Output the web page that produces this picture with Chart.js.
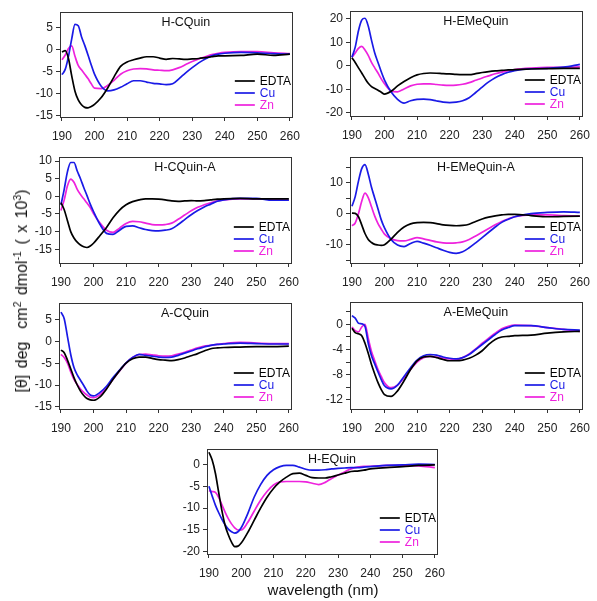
<!DOCTYPE html>
<html>
<head>
<meta charset="utf-8">
<script src="https://cdn.jsdelivr.net/npm/chart.js@4/dist/chart.umd.min.js"></script>
<style>
  body { margin: 0; background: #fff; width: 597px; height: 601px; position: relative; overflow: hidden;
         font-family: "Liberation Sans", Arial, sans-serif; }
  canvas { position: absolute; }
  #ylab { position: absolute; left: 22px; top: 291px; transform: translate(-50%, -50%) rotate(-90deg);
          white-space: nowrap; font-size: 16px; color: #111; word-spacing: 2px; line-height: 18px; }
  #ylab sup { font-size: 10.5px; vertical-align: 0; position: relative; top: -6px; line-height: 0; }
  #xlab { position: absolute; left: 323px; top: 589px; transform: translate(-50%, -50%);
          white-space: nowrap; font-size: 15px; color: #111; }
</style>
</head>
<body>
<canvas id="c1"></canvas>
<canvas id="c2"></canvas>
<canvas id="c3"></canvas>
<canvas id="c4"></canvas>
<canvas id="c5"></canvas>
<canvas id="c6"></canvas>
<canvas id="c7"></canvas>
<div id="ylab">[θ] deg&nbsp;&nbsp;cm<sup>2</sup> dmol<sup>-1</sup>&nbsp;( x 10<sup>3</sup>)</div>
<div id="xlab">wavelength (nm)</div>
<script>
// longueurs d'onde (nm)
const wl = [190,191,192,193,194,195,196,197,198,199,200,202,204,206,208,210,212,214,216,218,220,222,224,226,228,230,232,234,236,238,240,245,250,255,260];
const xTicks = [190,200,210,220,230,240,250,260];
const seriesNames = ['EDTA', 'Cu', 'Zn'];

// H-CQuin
const hCQuinEDTA = [-0.5,-0.2,-2.0,-6.0,-9.5,-11.5,-12.6,-13.2,-13.3,-13.0,-12.5,-11.0,-8.8,-6.2,-3.8,-2.8,-2.3,-1.9,-1.6,-1.6,-1.9,-2.2,-2.0,-2.1,-2.2,-2.1,-2.0,-1.8,-1.6,-1.4,-1.4,-1.3,-1.0,-1.3,-1.0];
const hCQuinCu   = [-5.7,-4.5,-1.5,2.5,5.8,5.5,3.0,1.0,-1.2,-3.5,-5.6,-8.3,-9.4,-9.2,-8.6,-7.8,-7.1,-7.1,-7.4,-7.7,-7.8,-8.0,-7.8,-6.6,-5.3,-4.1,-3.0,-2.1,-1.4,-1.0,-0.8,-0.6,-0.7,-0.9,-1.0];
const hCQuinZn   = [-2.3,-1.2,0.3,0.9,-1.5,-3.6,-4.6,-5.6,-6.6,-7.8,-8.8,-8.9,-8.2,-7.0,-5.6,-4.8,-4.4,-4.3,-4.4,-4.6,-4.7,-4.8,-4.6,-4.1,-3.4,-2.7,-2.1,-1.6,-1.1,-0.8,-0.6,-0.4,-0.4,-0.7,-0.9];
const hCQuinTicks = [-15,-10,-5,0,5];

// H-EMeQuin
const hEMeQuinEDTA = [3.5,1.5,-0.8,-3.0,-5.3,-7.4,-8.8,-9.6,-10.3,-11.2,-12.0,-10.8,-8.5,-6.6,-5.0,-3.8,-3.2,-3.0,-3.1,-3.3,-3.4,-3.6,-3.7,-3.7,-3.3,-2.8,-2.4,-2.1,-1.9,-1.7,-1.6,-1.3,-1.1,-1.0,-1.0];
const hEMeQuinCu   = [3.7,8.0,15.0,19.5,20.3,17.0,11.0,5.5,1.5,-2.5,-6.0,-11.0,-14.2,-15.8,-14.8,-14.2,-14.1,-14.3,-14.9,-15.4,-15.6,-15.4,-14.8,-13.5,-11.3,-9.0,-6.8,-5.0,-3.7,-2.7,-2.0,-1.2,-1.0,-0.5,0.7];
const hEMeQuinZn   = [3.7,5.5,7.5,8.3,6.8,4.5,1.5,-0.8,-3.0,-5.5,-7.6,-10.6,-11.0,-9.8,-8.5,-7.8,-7.6,-7.6,-7.9,-8.2,-8.3,-8.2,-7.8,-7.1,-6.1,-5.1,-4.2,-3.3,-2.6,-2.0,-1.5,-0.9,-0.6,-0.6,-0.4];
const hEMeQuinTicks = [-20,-10,0,10,20];

// H-CQuin-A
const hCQuinAEDTA = [-1.8,-3.8,-6.9,-10.0,-11.8,-13.0,-13.8,-14.3,-14.5,-14.1,-13.3,-11.1,-8.8,-6.1,-3.9,-2.4,-1.5,-1.0,-0.7,-0.7,-0.8,-1.0,-1.3,-1.4,-1.3,-1.2,-1.3,-1.2,-1.0,-0.8,-0.7,-0.6,-0.7,-0.7,-0.7];
const hCQuinACu   = [-2.4,2.0,7.0,9.6,9.6,7.2,5.0,2.5,0.2,-2.2,-4.3,-8.0,-10.5,-10.8,-9.6,-8.5,-8.4,-8.9,-9.4,-9.7,-9.8,-9.6,-9.2,-8.0,-6.6,-5.2,-4.0,-3.0,-2.2,-1.4,-1.0,-0.6,-0.6,-1.1,-1.1];
const hCQuinAZn   = [-4.0,-1.0,3.0,4.9,4.0,2.0,0.5,-0.7,-1.9,-3.2,-4.9,-7.6,-9.6,-10.2,-9.0,-7.7,-7.1,-7.2,-7.6,-8.0,-8.1,-8.0,-7.6,-6.5,-5.3,-4.1,-3.1,-2.4,-1.8,-1.3,-1.0,-0.7,-0.7,-0.9,-1.1];
const hCQuinATicks = [-15,-10,-5,0,5,10];

// H-EMeQuin-A
const hEMeQuinAEDTA = [0.2,0.1,-1.0,-3.6,-6.4,-8.3,-9.3,-9.9,-10.1,-10.2,-10.0,-8.2,-6.0,-4.3,-3.3,-2.9,-2.8,-2.9,-3.2,-3.6,-3.8,-3.9,-3.8,-3.4,-2.5,-1.7,-1.1,-0.7,-0.4,-0.2,-0.2,-0.6,-1.0,-0.9,-0.8];
const hEMeQuinACu   = [2.4,5.5,10.5,14.5,15.8,12.8,8.5,5.0,1.5,-2.0,-4.6,-8.3,-10.1,-10.6,-9.6,-8.9,-9.5,-10.2,-11.0,-11.8,-12.5,-12.8,-12.3,-11.0,-9.4,-7.7,-6.0,-4.3,-2.8,-1.8,-1.0,0.0,0.4,0.6,0.4];
const hEMeQuinAZn   = [-3.9,-3.0,0.0,4.0,6.6,5.2,2.2,-0.8,-3.2,-5.0,-6.6,-8.1,-8.7,-8.8,-8.3,-7.7,-8.1,-8.6,-9.1,-9.4,-9.5,-9.4,-9.1,-8.3,-7.2,-6.0,-4.8,-3.6,-2.5,-1.7,-1.0,-0.4,-0.4,-0.6,-0.8];
const hEMeQuinATicks = [-15,-10,-5,0,5,10,15];
const hEMeQuinALabels = [-10,0,10];

// A-CQuin
const aCQuinEDTA = [-2.0,-2.6,-4.3,-6.3,-8.3,-10.0,-11.4,-12.4,-13.1,-13.4,-13.5,-12.7,-10.9,-8.7,-6.7,-5.0,-4.0,-3.6,-3.6,-3.9,-4.2,-4.3,-4.4,-4.2,-3.8,-3.3,-2.8,-2.2,-1.7,-1.5,-1.4,-1.3,-1.2,-1.2,-1.1];
const aCQuinCu   = [6.7,5.2,1.1,-3.0,-6.0,-7.7,-8.9,-10.1,-11.4,-12.3,-12.5,-11.7,-10.3,-8.3,-6.6,-4.9,-3.7,-3.0,-3.2,-3.4,-3.6,-3.7,-3.6,-3.2,-2.7,-2.2,-1.7,-1.3,-0.9,-0.7,-0.6,-0.4,-0.5,-0.6,-0.6];
const aCQuinZn   = [-3.0,-3.7,-5.0,-7.0,-8.7,-9.9,-10.9,-11.7,-12.3,-12.8,-12.9,-12.2,-10.7,-8.7,-6.8,-5.0,-3.7,-3.0,-2.9,-3.1,-3.3,-3.4,-3.3,-2.9,-2.5,-2.0,-1.5,-1.1,-0.9,-0.7,-0.5,-0.2,-0.4,-0.5,-0.5];
const aCQuinTicks = [-15,-10,-5,0,5];

// A-EMeQuin
const aEMeQuinEDTA = [-0.6,-1.3,-1.5,-1.8,-3.0,-4.6,-6.4,-7.9,-9.3,-10.4,-11.2,-11.5,-10.6,-9.0,-7.2,-5.8,-5.2,-5.1,-5.3,-5.6,-5.8,-5.8,-5.7,-5.4,-4.9,-4.2,-3.2,-2.4,-2.0,-1.9,-1.8,-1.7,-1.4,-1.2,-1.1];
const aEMeQuinCu   = [1.4,1.0,0.2,0.1,-0.3,-3.0,-5.0,-6.3,-7.6,-8.8,-9.8,-10.3,-9.7,-8.3,-6.9,-5.7,-5.0,-4.8,-4.9,-5.2,-5.4,-5.5,-5.3,-4.8,-4.0,-3.2,-2.4,-1.6,-0.9,-0.5,-0.2,-0.2,-0.5,-0.8,-0.9];
const aEMeQuinZn   = [-0.4,-1.0,-1.2,-0.4,0.0,-2.2,-4.3,-5.8,-7.2,-8.3,-9.3,-10.1,-9.7,-8.5,-7.2,-6.0,-5.3,-5.1,-5.2,-5.4,-5.5,-5.6,-5.3,-4.7,-3.9,-3.0,-2.2,-1.4,-0.7,-0.3,-0.1,-0.2,-0.5,-0.8,-1.1];
const aEMeQuinTicks = [-12,-10,-8,-6,-4,-2,0,2];
const aEMeQuinLabels = [-12,-8,-4,0];

// H-EQuin
const hEQuinEDTA = [2.8,1.0,-2.0,-6.3,-10.5,-13.9,-16.1,-17.8,-18.8,-18.7,-18.0,-15.6,-12.8,-10.0,-7.5,-5.5,-4.0,-2.9,-2.1,-2.0,-2.5,-3.0,-3.1,-3.1,-2.8,-2.4,-2.0,-1.6,-1.5,-1.3,-1.0,-0.7,-0.5,-0.2,-0.1];
const hEQuinCu   = [-5.0,-7.2,-9.3,-11.0,-12.5,-13.8,-14.8,-15.4,-15.7,-15.4,-14.5,-11.3,-7.5,-4.6,-2.5,-1.2,-0.5,-0.2,-0.2,-0.6,-1.1,-1.3,-1.3,-1.2,-1.0,-0.9,-0.8,-0.7,-0.7,-0.6,-0.5,-0.2,-0.1,0.1,0.0];
const hEQuinZn   = [-6.0,-6.2,-6.4,-7.5,-9.2,-10.9,-12.4,-13.6,-14.5,-15.0,-15.0,-13.3,-10.7,-8.2,-6.2,-4.7,-4.0,-3.9,-3.9,-3.9,-4.0,-4.3,-4.6,-4.1,-3.2,-2.4,-1.7,-1.0,-0.6,-0.4,-0.4,-0.2,-0.2,-0.3,-0.7];
const hEQuinTicks = [-20,-15,-10,-5,0];

const couleurs = ['#000000', '#1a1ae6', '#ee22dd'];

// un panneau par graphique : box = [gauche, haut, droite, bas] de la zone de tracé
const panneaux = [
  { id: 'c1', titre: 'H-CQuin',     series: [hCQuinEDTA, hCQuinCu, hCQuinZn],       box: [60, 10, 294, 117],  ymin: -15.4, ymax: 8.6,  ticks: hCQuinTicks },
  { id: 'c2', titre: 'H-EMeQuin',   series: [hEMeQuinEDTA, hEMeQuinCu, hEMeQuinZn], box: [350, 9, 584, 116],  ymin: -21.3, ymax: 23.3, ticks: hEMeQuinTicks },
  { id: 'c3', titre: 'H-CQuin-A',   series: [hCQuinAEDTA, hCQuinACu, hCQuinAZn],    box: [59, 155, 293, 263], ymin: -18.9, ymax: 11.1, ticks: hCQuinATicks },
  { id: 'c4', titre: 'H-EMeQuin-A', series: [hEMeQuinAEDTA, hEMeQuinACu, hEMeQuinAZn], box: [350, 155, 584, 263], ymin: -15.9, ymax: 18.2, ticks: hEMeQuinATicks, labels: hEMeQuinALabels },
  { id: 'c5', titre: 'A-CQuin',     series: [aCQuinEDTA, aCQuinCu, aCQuinZn],       box: [59, 301, 293, 409], ymin: -15.5, ymax: 8.75, ticks: aCQuinTicks },
  { id: 'c6', titre: 'A-EMeQuin',   series: [aEMeQuinEDTA, aEMeQuinCu, aEMeQuinZn], box: [350, 300, 584, 409], ymin: -13.5, ymax: 3.55, ticks: aEMeQuinTicks, labels: aEMeQuinLabels },
  { id: 'c7', titre: 'H-EQuin',     series: [hEQuinEDTA, hEQuinCu, hEQuinZn],       box: [207, 447, 439, 554], ymin: -20.5, ymax: 3.5,  ticks: hEQuinTicks }
];

// cadre autour de la zone de tracé
const cadre = {
  id: 'cadre',
  afterDraw(chart) {
    const a = chart.chartArea, ctx = chart.ctx;
    ctx.save();
    ctx.strokeStyle = '#333';
    ctx.lineWidth = 1;
    ctx.strokeRect(Math.round(a.left) + 0.5, Math.round(a.top) + 0.5, Math.round(a.right - a.left), Math.round(a.bottom - a.top));
    ctx.restore();
  }
};

// titre dans le graphique + légende en bas à droite
const titreLegende = {
  id: 'titreLegende',
  afterDraw(chart, args, opts) {
    const a = chart.chartArea, ctx = chart.ctx;
    ctx.save();
    ctx.font = '12.5px "Liberation Sans", Arial, sans-serif';
    ctx.fillStyle = '#111';
    ctx.textAlign = 'center';
    ctx.textBaseline = 'middle';
    ctx.fillText(opts.texte, (a.left + a.right) / 2 + 10, a.top + 10);

    ctx.font = '12px "Liberation Sans", Arial, sans-serif';
    ctx.textAlign = 'left';
    const decal = [36, 24, 12];
    chart.data.datasets.forEach((ds, i) => {
      const y = a.bottom - decal[i];
      ctx.strokeStyle = ds.borderColor;
      ctx.lineWidth = 1.7;
      ctx.beginPath();
      ctx.moveTo(a.right - 57, y);
      ctx.lineTo(a.right - 37, y);
      ctx.stroke();
      ctx.fillStyle = ds.borderColor;
      ctx.fillText(ds.label, a.right - 32, y + 0.5);
    });
    ctx.restore();
  }
};

function dessinePanneau(p) {
  const cv = document.getElementById(p.id);
  const padG = 48, padH = 8, padD = 14, axeH = 30;
  const [l, t, r, b] = p.box;
  const w = padG + (r - l) + padD, h = padH + (b - t) + axeH;
  cv.style.left = (l - padG) + 'px';
  cv.style.top = (t - padH) + 'px';
  cv.width = w; cv.height = h;
  cv.style.width = w + 'px'; cv.style.height = h + 'px';

  new Chart(cv, {
    type: 'line',
    data: {
      datasets: p.series.map((s, i) => ({
        label: seriesNames[i],
        data: wl.map((x, k) => ({ x: x, y: s[k] })),
        borderColor: couleurs[i],
        borderWidth: 1.7,
        pointRadius: 0,
        fill: false,
        cubicInterpolationMode: 'monotone'
      }))
    },
    options: {
      responsive: false,
      animation: false,
      devicePixelRatio: 1,
      layout: { padding: { top: padH, right: padD, left: 0, bottom: 0 } },
      plugins: { legend: { display: false }, tooltip: { enabled: false }, titreLegende: { texte: p.titre } },
      scales: {
        x: {
          type: 'linear', min: 189.4, max: 260.6,
          afterBuildTicks: s => { s.ticks = xTicks.map(v => ({ value: v })); },
          afterFit: s => { s.height = axeH; },
          grid: { drawOnChartArea: false, tickLength: 4, color: '#333' },
          border: { color: '#333' },
          ticks: { font: { size: 12, family: '"Liberation Sans", Arial, sans-serif' }, color: '#222', padding: 8, maxRotation: 0, autoSkip: false }
        },
        y: {
          type: 'linear', min: p.ymin, max: p.ymax,
          afterBuildTicks: s => { s.ticks = p.ticks.map(v => ({ value: v })); },
          afterFit: s => { s.width = padG; },
          grid: { drawOnChartArea: false, tickLength: 4, color: '#333' },
          border: { color: '#333' },
          ticks: {
            font: { size: 12, family: '"Liberation Sans", Arial, sans-serif' }, color: '#222', padding: 3, autoSkip: false,
            callback: v => (!p.labels || p.labels.includes(v)) ? String(v) : ''
          }
        }
      }
    },
    plugins: [cadre, titreLegende]
  });
}

panneaux.forEach(dessinePanneau);
</script>
</body>
</html>
